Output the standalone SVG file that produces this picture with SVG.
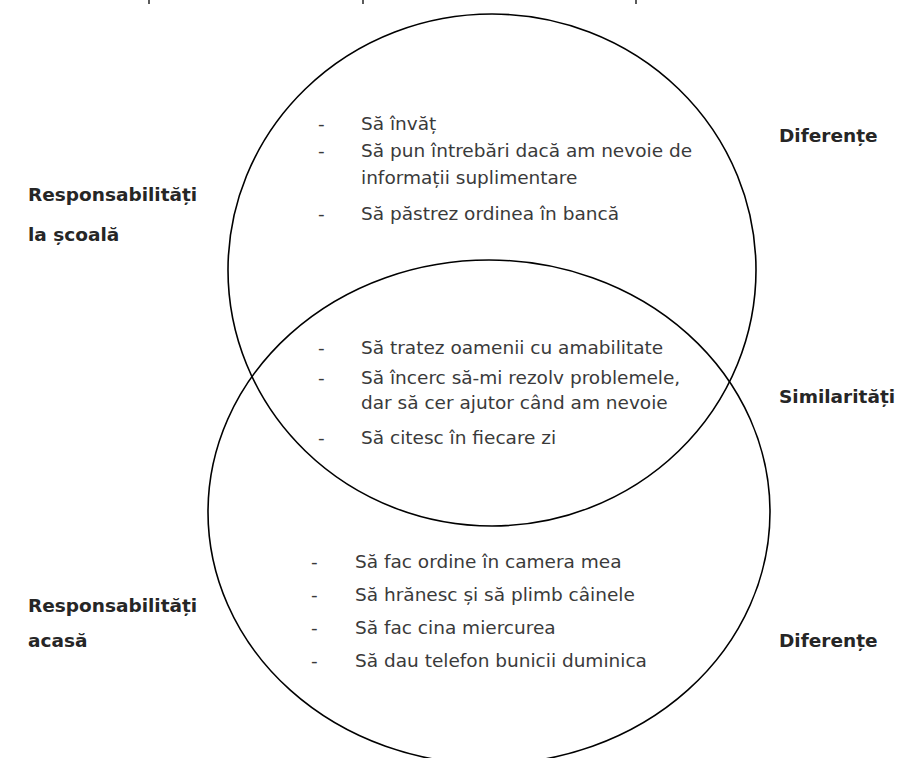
<svg xmlns="http://www.w3.org/2000/svg" width="914" height="758" viewBox="0 0 914 758">
  <style>
    .ring { fill: none; stroke: #000; stroke-width: 1.6; }
    .item { font-family: "DejaVu Sans", "Liberation Sans", sans-serif; font-size: 18.5px; fill: #3a3a3a; }
    .label { font-family: "DejaVu Sans", "Liberation Sans", sans-serif; font-size: 18.5px; font-weight: bold; fill: #262626; }
    .tick { stroke: #333; stroke-width: 1.6; }
  </style>
  <rect width="914" height="758" fill="#fff"/>

  <!-- clipped marks along the top edge -->
  <g id="top-marks">
    <line class="tick" x1="149" y1="0" x2="149" y2="4"/>
    <line class="tick" x1="363" y1="0" x2="363" y2="4"/>
    <line class="tick" x1="636" y1="0" x2="636" y2="4"/>
  </g>

  <!-- the two overlapping sets -->
  <g id="connectors">
    <ellipse id="set-school" class="ring" cx="492" cy="270" rx="264" ry="256"/>
    <ellipse id="set-home" class="ring" cx="489" cy="512" rx="281" ry="252"/>
  </g>

  <g id="school-only">
    <text class="item" x="318" y="130">-</text>
    <text class="item" x="361" y="130">Să învăț</text>
    <text class="item" x="318" y="157">-</text>
    <text class="item" x="361" y="157">Să pun întrebări dacă am nevoie de</text>
    <text class="item" x="361" y="184">informații suplimentare</text>
    <text class="item" x="318" y="220">-</text>
    <text class="item" x="361" y="220">Să păstrez ordinea în bancă</text>
  </g>

  <g id="shared">
    <text class="item" x="318" y="354">-</text>
    <text class="item" x="361" y="354">Să tratez oamenii cu amabilitate</text>
    <text class="item" x="318" y="384">-</text>
    <text class="item" x="361" y="384">Să încerc să-mi rezolv problemele,</text>
    <text class="item" x="361" y="409">dar să cer ajutor când am nevoie</text>
    <text class="item" x="318" y="444">-</text>
    <text class="item" x="361" y="444">Să citesc în fiecare zi</text>
  </g>

  <g id="home-only">
    <text class="item" x="311" y="568">-</text>
    <text class="item" x="355" y="568">Să fac ordine în camera mea</text>
    <text class="item" x="311" y="601">-</text>
    <text class="item" x="355" y="601">Să hrănesc și să plimb câinele</text>
    <text class="item" x="311" y="634">-</text>
    <text class="item" x="355" y="634">Să fac cina miercurea</text>
    <text class="item" x="311" y="667">-</text>
    <text class="item" x="355" y="667">Să dau telefon bunicii duminica</text>
  </g>

  <g id="label-school">
    <text class="label" x="28" y="201">Responsabilități</text>
    <text class="label" x="28" y="241">la școală</text>
  </g>
  <g id="label-home">
    <text class="label" x="28" y="612">Responsabilități</text>
    <text class="label" x="28" y="647">acasă</text>
  </g>
  <g id="label-diff-top">
    <text class="label" x="779" y="142">Diferențe</text>
  </g>
  <g id="label-similar">
    <text class="label" x="779" y="403">Similarități</text>
  </g>
  <g id="label-diff-bottom">
    <text class="label" x="779" y="647">Diferențe</text>
  </g>
</svg>
